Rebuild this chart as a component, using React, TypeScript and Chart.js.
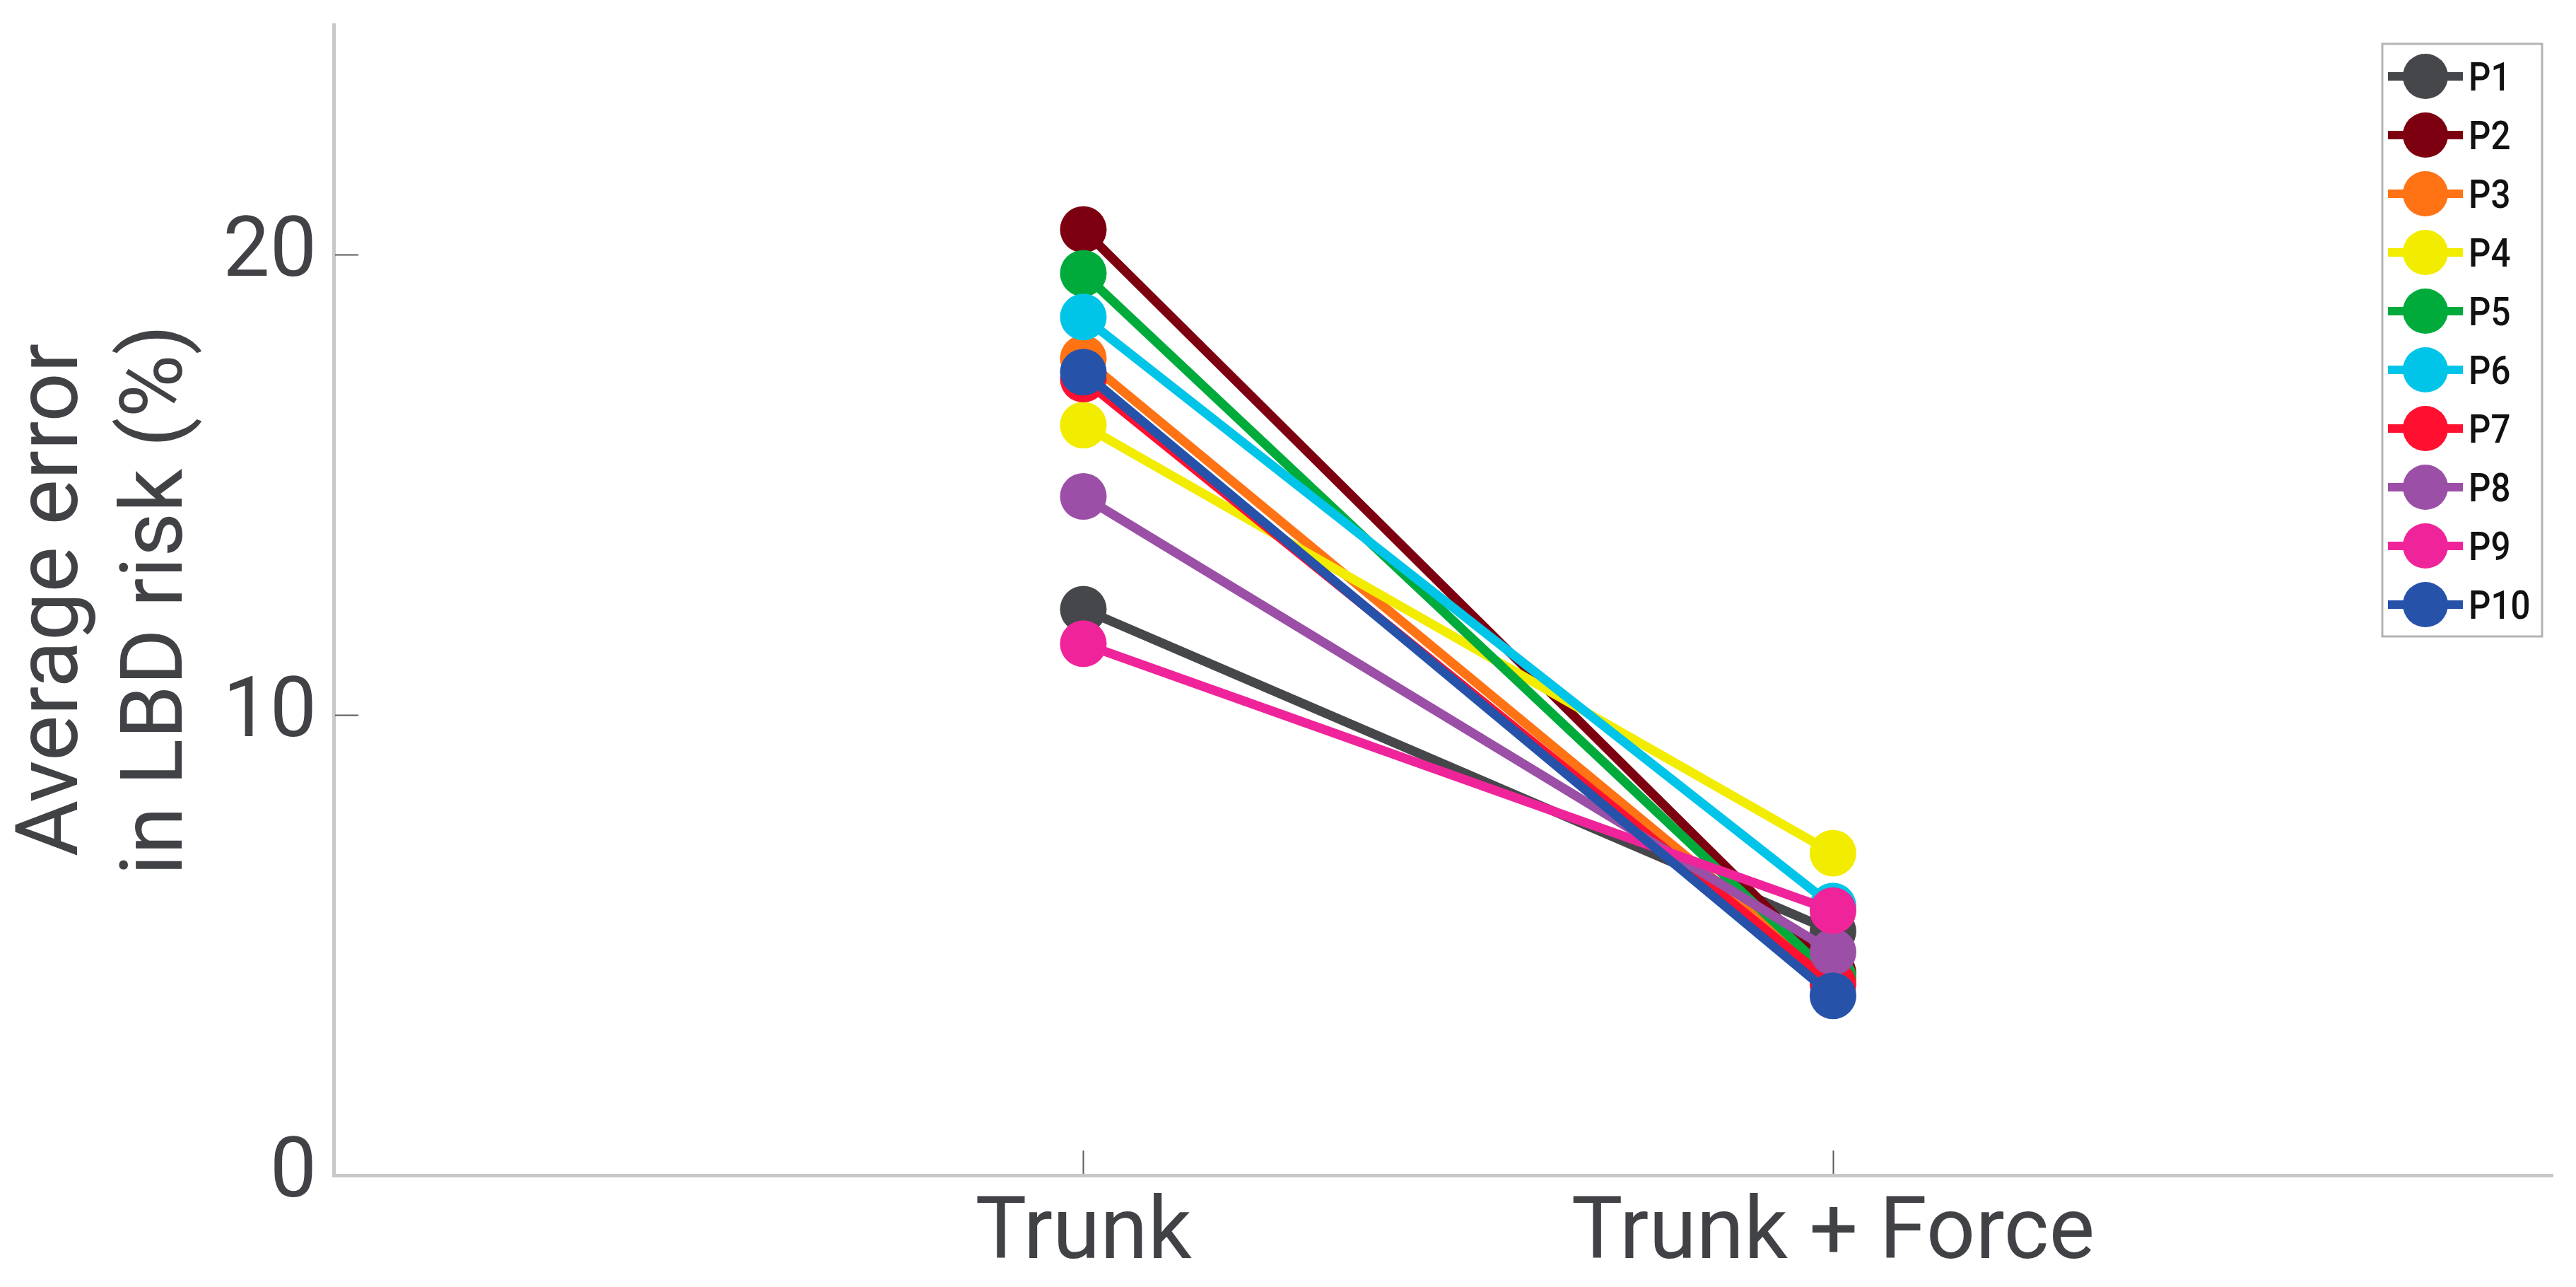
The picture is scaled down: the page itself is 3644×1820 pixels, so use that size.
import React, { useEffect, useRef } from "react";
import { Chart, registerables } from "chart.js";

Chart.register(...registerables);

// ---- data ----
const categories = ["Trunk", "Trunk + Force"];
const categoryX = [1, 2];
const yTickValues = [0, 10, 20];
const participants = ["P1", "P2", "P3", "P4", "P5", "P6", "P7", "P8", "P9", "P10"];
const p1 = [12.3, 5.3];
const p2 = [20.55, 4.4];
const p3 = [17.75, 4.3];
const p4 = [16.3, 7.0];
const p5 = [19.6, 4.3];
const p6 = [18.65, 5.85];
const p7 = [17.3, 4.15];
const p8 = [14.75, 4.85];
const p9 = [11.55, 5.75];
const p10 = [17.45, 3.9];
const seriesValues = [p1, p2, p3, p4, p5, p6, p7, p8, p9, p10];
const seriesColors = [
  "#46474a",
  "#7d0010",
  "#ff7314",
  "#f2ec00",
  "#00ab3c",
  "#00c5e8",
  "#ff1030",
  "#9b4fa6",
  "#f0249a",
  "#2652aa",
];

const TEXT_COLOR = "#404245";
const AXIS_COLOR = "#c8c8c8";

const innerTicksPlugin = {
  id: "innerTicks",
  beforeDatasetsDraw(chart: any) {
    const { ctx, chartArea, scales } = chart;
    const len = 33;
    ctx.save();
    ctx.strokeStyle = "#5a5a5a";
    ctx.lineWidth = 2;
    scales.y.ticks.forEach((t: any) => {
      if (t.value === 0) return;
      const y = Math.round(scales.y.getPixelForValue(t.value)) + 0.5;
      ctx.beginPath();
      ctx.moveTo(chartArea.left + 2, y);
      ctx.lineTo(chartArea.left + 2 + len, y);
      ctx.stroke();
    });
    scales.x.ticks.forEach((t: any) => {
      const x = Math.round(scales.x.getPixelForValue(t.value)) + 0.5;
      ctx.beginPath();
      ctx.moveTo(x, chartArea.bottom - 2);
      ctx.lineTo(x, chartArea.bottom - 2 - len);
      ctx.stroke();
    });
    ctx.restore();
  },
};

const legendPlugin = {
  id: "boxLegend",
  afterDraw(chart: any) {
    const { ctx } = chart;
    const bx = 3370;
    const by = 62;
    const bw = 226;
    const bh = 838;
    const rowTop = 108;
    const rowGap = 83;
    ctx.save();
    ctx.fillStyle = "#ffffff";
    ctx.fillRect(bx, by, bw, bh);
    ctx.strokeStyle = "#b4b4b4";
    ctx.lineWidth = 3;
    ctx.strokeRect(bx, by, bw, bh);
    chart.data.datasets.forEach((ds: any, i: number) => {
      const y = rowTop + i * rowGap;
      ctx.strokeStyle = ds.borderColor;
      ctx.lineWidth = 12;
      ctx.beginPath();
      ctx.moveTo(3378, y);
      ctx.lineTo(3484, y);
      ctx.stroke();
      ctx.fillStyle = ds.borderColor;
      ctx.beginPath();
      ctx.arc(3431, y, 32, 0, Math.PI * 2);
      ctx.fill();
      ctx.save();
      ctx.translate(3492, y + 6);
      ctx.scale(0.88, 1);
      ctx.fillStyle = "#111111";
      ctx.font = "500 56px Roboto";
      ctx.textAlign = "left";
      ctx.textBaseline = "middle";
      ctx.fillText(ds.label, 0, 0);
      ctx.restore();
    });
    ctx.restore();
  },
};

export default function App() {
  const canvasRef = useRef<HTMLCanvasElement | null>(null);

  useEffect(() => {
    const canvas = canvasRef.current;
    if (!canvas) return;
    const datasets = participants.map((name, i) => ({
      label: name,
      data: categoryX.map((x, j) => ({ x, y: seriesValues[i][j] })),
      borderColor: seriesColors[i],
      backgroundColor: seriesColors[i],
      pointBackgroundColor: seriesColors[i],
      pointBorderColor: seriesColors[i],
      pointBorderWidth: 0,
      pointRadius: 33,
      borderWidth: 13,
      tension: 0,
      order: participants.length - i,
    }));
    const chart = new Chart(canvas, {
      type: "line",
      data: { datasets },
      options: {
        animation: false,
        responsive: false,
        devicePixelRatio: 1,
        layout: { padding: { top: 35, right: 4, left: 0, bottom: 0 } },
        plugins: {
          legend: { display: false },
          tooltip: { enabled: false },
        },
        scales: {
          x: {
            type: "linear",
            min: 0,
            max: 2.96,
            grid: { display: false, drawTicks: false },
            border: { display: true, color: AXIS_COLOR, width: 5 },
            afterBuildTicks: (scale: any) => {
              scale.ticks = categoryX.map((v) => ({ value: v }));
            },
            afterFit: (scale: any) => {
              scale.height = 158;
              scale.paddingLeft = 0;
              scale.paddingRight = 0;
            },
            ticks: {
              autoSkip: false,
              maxRotation: 0,
              padding: 13,
              color: TEXT_COLOR,
              font: { family: "Roboto", size: 122, lineHeight: 1.2 },
              callback: (v: any) => {
                const idx = categoryX.indexOf(Number(v));
                return idx >= 0 ? categories[idx] : "";
              },
            },
          },
          y: {
            type: "linear",
            min: 0,
            max: 25,
            grid: { display: false, drawTicks: false },
            border: { display: true, color: AXIS_COLOR, width: 5 },
            afterBuildTicks: (scale: any) => {
              scale.ticks = yTickValues.map((v) => ({ value: v }));
            },
            afterFit: (scale: any) => {
              scale.width = 472;
              scale.paddingTop = 0;
              scale.paddingBottom = 0;
            },
            ticks: {
              padding: 24,
              color: TEXT_COLOR,
              font: { family: "Roboto", size: 118 },
              callback: (v: any) => String(v),
            },
            title: {
              display: true,
              text: ["Average error", "in LBD risk (%)"],
              color: TEXT_COLOR,
              padding: { top: 5, bottom: 0 },
              font: { family: "Roboto", size: 122, lineHeight: 1.213 },
            },
          },
        },
      },
      plugins: [innerTicksPlugin, legendPlugin],
    } as any);
    return () => chart.destroy();
  }, []);

  return (
    <div style={{ position: "absolute", left: 0, top: 0, width: 3644, height: 1820, background: "#ffffff" }}>
      <canvas ref={canvasRef} width={3644} height={1820} style={{ display: "block" }} />
    </div>
  );
}
